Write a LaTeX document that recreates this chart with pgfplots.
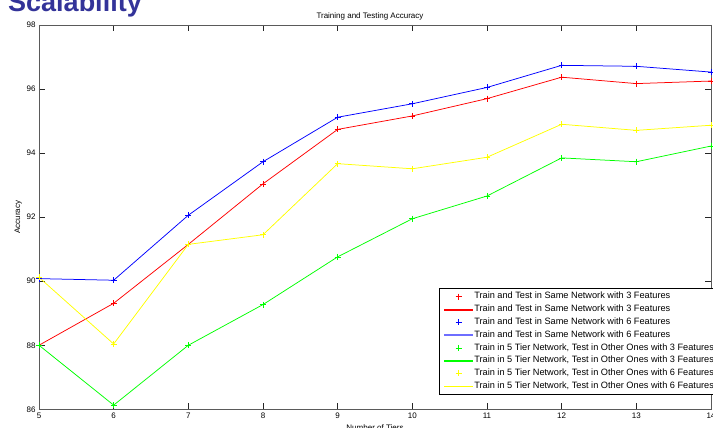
\documentclass[border=0pt]{standalone}
\usepackage{fontspec}
\setmainfont{Liberation Sans}
\usepackage{pgfplots}
\usepackage{pgfplotstable}
\pgfplotsset{compat=1.18}
\definecolor{titleblue}{RGB}{51,51,153}
\definecolor{mred}{RGB}{255,0,0}
\definecolor{mblue}{RGB}{0,0,255}
\definecolor{lblue}{RGB}{110,110,255}
\definecolor{mgreen}{RGB}{0,255,0}
\definecolor{myellow}{RGB}{255,255,0}
\definecolor{axgray}{RGB}{90,90,90}
\pgfplotsset{
  legmark/.style={legend image code/.code={\draw[##1] plot coordinates {(15pt,0pt)};}},
  legline/.style 2 args={legend image code/.code={\fill[#1] (1pt,-#2) rectangle (29pt,#2);}},
}

\pgfplotstableread{
x  r     b     g     y
5  88.00 90.08 88.00 90.12
6  89.31 90.03 86.13 88.04
7  91.15 92.06 88.00 91.15
8  93.04 93.73 89.27 91.45
9  94.74 95.12 90.76 93.67
10 95.16 95.54 91.95 93.51
11 95.70 96.05 92.66 93.87
12 96.37 96.74 93.85 94.90
13 96.17 96.71 93.73 94.71
14 96.25 96.53 94.22 94.87
}\datatable

\begin{document}
\begin{tikzpicture}[x=1pt,y=1pt]
\begin{axis}[
  at={(39pt,18.7pt)}, anchor=south west,
  scale only axis, width=672pt, height=384.3pt,
  xmin=5, xmax=14, ymin=86, ymax=98,
  xtick={5,6,...,14}, ytick={86,88,...,98},
  tick align=inside, tick pos=both, major tick length=6pt,
  axis line style={axgray, line width=0.9pt},
  tick style={black!85, line width=0.6pt},
  ticklabel style={font=\fontsize{8}{9}\selectfont},
  /pgf/number format/assume math mode=true,
  title={Training and Testing Accuracy},
  title style={at={(axis description cs:0.4925,1)}, anchor=base, yshift=0pt, font=\fontsize{8}{9}\selectfont},
  xlabel={Number of Tiers},
  xlabel style={at={(axis description cs:0.5,-0.0539)}, anchor=base, font=\fontsize{8}{9}\selectfont},
  ylabel={Accuracy},
  ylabel style={at={(axis description cs:-0.0282,0.5)}, anchor=base, font=\fontsize{8}{9}\selectfont},
  legend cell align=left,
  legend style={at={(axis description cs:0.5958,0.3149)}, anchor=north west,
    draw=black, fill=white, inner xsep=4.7pt, inner ysep=1.8pt, row sep=0pt,
    font=\fontsize{9.2}{10}\selectfont,
    nodes={inner xsep=1.3pt, inner ysep=2.1pt, text height=6.6pt, text depth=2pt}},
  every axis plot/.append style={line width=0.75pt},
  mark options={solid, line width=0.6pt},
]
\addplot[color=mred, only marks, mark=+, mark size=3pt, legmark] table[x=x,y=r]{\datatable};
\addplot[color=mred, no marks, legline={mred}{0.4pt}] table[x=x,y=r]{\datatable};
\addplot[color=mblue, only marks, mark=+, mark size=3pt, legmark] table[x=x,y=b]{\datatable};
\addplot[color=mblue, no marks, legline={lblue}{0.65pt}] table[x=x,y=b]{\datatable};
\addplot[color=mgreen, only marks, mark=+, mark size=3pt, legmark] table[x=x,y=g]{\datatable};
\addplot[color=mgreen, no marks, legline={mgreen}{0.4pt}] table[x=x,y=g]{\datatable};
\addplot[color=myellow, only marks, mark=+, mark size=3pt, mark options={line width=0.8pt}, legmark] table[x=x,y=y]{\datatable};
\addplot[color=myellow, no marks, legline={myellow}{0.4pt}] table[x=x,y=y]{\datatable};
\legend{Train and Test in Same Network with 3 Features,
Train and Test in Same Network with 3 Features,
Train and Test in Same Network with 6 Features,
Train and Test in Same Network with 6 Features,
{Train in 5 Tier Network, Test in Other Ones with 3 Features},
{Train in 5 Tier Network, Test in Other Ones with 3 Features},
{Train in 5 Tier Network, Test in Other Ones with 6 Features},
{Train in 5 Tier Network, Test in Other Ones with 6 Features}}
\end{axis}
\node[anchor=base west, inner sep=0pt, text=titleblue, font=\fontsize{27}{30}\selectfont\bfseries] at (8,416) {Scalability};
\pgfresetboundingbox
\useasboundingbox (0,0) rectangle (713,428);
\end{tikzpicture}
\end{document}
